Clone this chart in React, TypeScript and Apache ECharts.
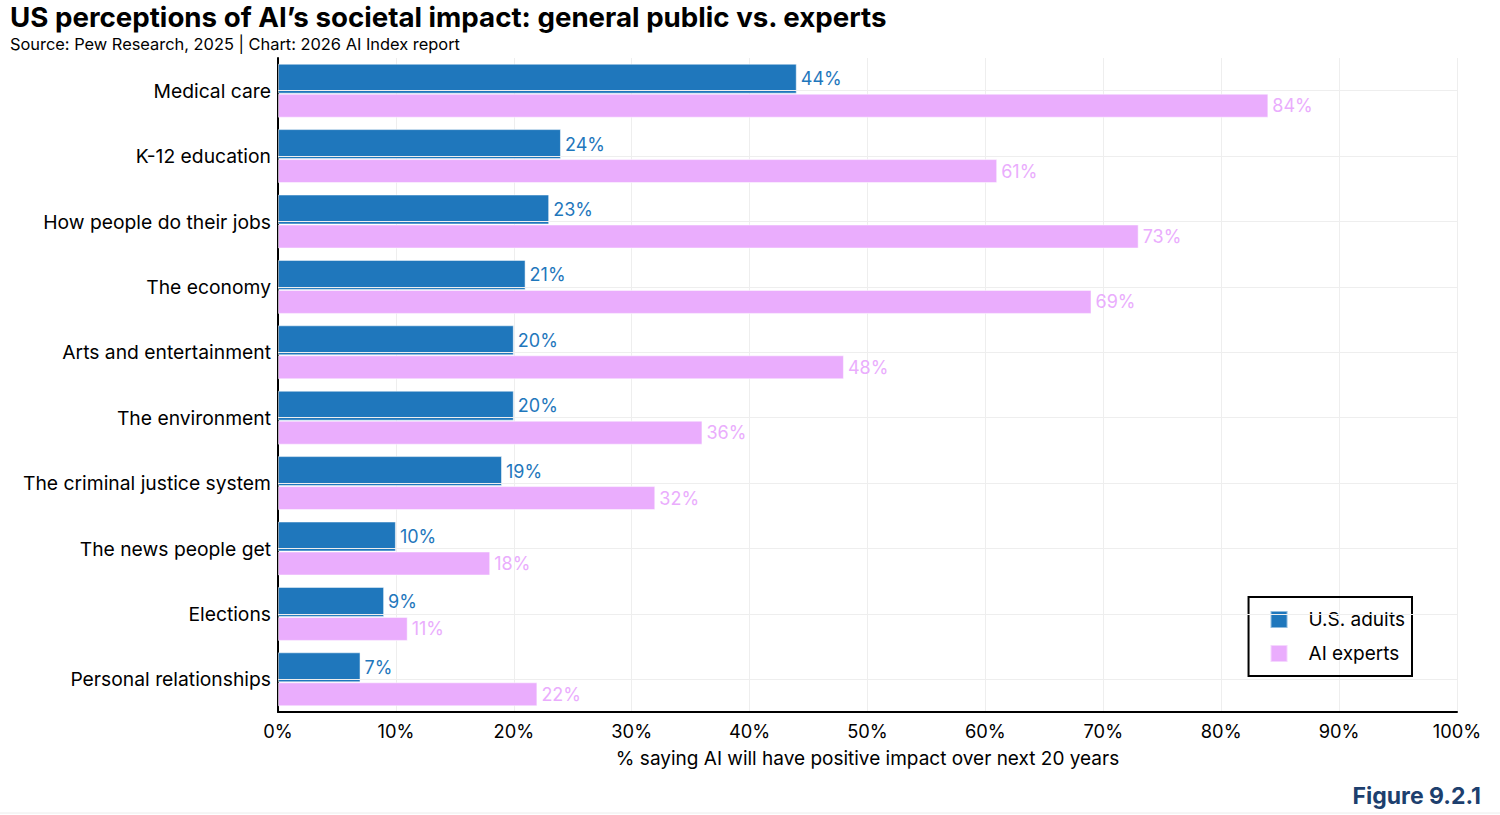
import React, { useEffect, useRef } from "react";
import * as echarts from "echarts";

const categories = [
  "Medical care",
  "K-12 education",
  "How people do their jobs",
  "The economy",
  "Arts and entertainment",
  "The environment",
  "The criminal justice system",
  "The news people get",
  "Elections",
  "Personal relationships",
];
const usAdults = [44, 24, 23, 21, 20, 20, 19, 10, 9, 7];
const aiExperts = [84, 61, 73, 69, 48, 36, 32, 18, 11, 22];
const xTicks = [0, 10, 20, 30, 40, 50, 60, 70, 80, 90, 100];

const BLUE = "#1f77bc";
const PINK = "#eaadfd";
const FONT = "Inter, 'Noto Sans', sans-serif";

export default function App() {
  const ref = useRef<HTMLDivElement>(null);

  useEffect(() => {
    document.body.style.margin = "0";
    const chart = echarts.init(ref.current!, undefined, { renderer: "svg" });
    chart.setOption({
      animation: false,
      textStyle: { fontFamily: FONT },
      title: [
        {
          text: "US perceptions of AI’s societal impact: general public vs. experts",
          left: 5,
          top: -2,
          textStyle: { fontFamily: FONT, fontSize: 27.7, fontWeight: "bold", color: "#000" },
        },
        {
          text: "Source: Pew Research, 2025 | Chart: 2026 AI Index report",
          left: 5,
          top: 31,
          textStyle: { fontFamily: FONT, fontSize: 16.4, fontWeight: "normal", color: "#000" },
        },
        {
          text: "Figure 9.2.1",
          right: 14,
          top: 779,
          textStyle: { fontFamily: FONT, fontSize: 23, fontWeight: "bold", color: "#1d3f6e" },
        },
      ],
      legend: {
        orient: "vertical",
        right: 88,
        top: 597,
        padding: [13, 7, 13, 21],
        borderColor: "#000",
        borderWidth: 2,
        icon: "rect",
        itemWidth: 17,
        itemHeight: 17,
        itemGap: 15,
        textStyle: { fontFamily: FONT, fontSize: 19, color: "#000", padding: [0, 0, 0, 16] },
        data: ["U.S. adults", "AI experts"],
      },
      grid: { left: 278, right: 43, top: 58, bottom: 103, containLabel: false },
      xAxis: {
        type: "value",
        min: 0,
        max: 100,
        interval: 10,
        name: "% saying AI will have positive impact over next 20 years",
        nameLocation: "middle",
        nameGap: 37,
        nameTextStyle: { fontFamily: FONT, fontSize: 19, color: "#000" },
        axisLine: { show: true, lineStyle: { color: "#000", width: 2 } },
        axisTick: { show: false },
        axisLabel: {
          fontFamily: FONT,
          fontSize: 18.3,
          color: "#000",
          margin: 10,
          formatter: (v: number) => (xTicks.includes(v) ? `${v}%` : ""),
        },
        splitLine: { show: true, lineStyle: { color: "#eeeeee", width: 1 } },
      },
      yAxis: {
        type: "category",
        inverse: true,
        data: categories,
        axisLine: { show: true, lineStyle: { color: "#000", width: 2 } },
        axisTick: { show: false },
        axisLabel: { fontFamily: FONT, fontSize: 19.3, color: "#000", margin: 7 },
        splitLine: { show: false },
      },
      series: [
        {
          name: "gridlines",
          type: "line",
          data: [],
          silent: true,
          z: 0,
          markLine: {
            silent: true,
            symbol: ["none", "none"],
            label: { show: false },
            lineStyle: { color: "#eeeeee", width: 1, type: "solid" },
            data: categories.map((c) => ({ yAxis: c })),
          },
        },
        {
          name: "U.S. adults",
          type: "bar",
          data: usAdults,
          barWidth: 30,
          barGap: "0%",
          z: 3,
          itemStyle: { color: BLUE, borderColor: "rgba(255,255,255,0.5)", borderWidth: 1 },
          label: {
            show: true,
            position: "right",
            distance: 4,
            formatter: "{c}%",
            fontFamily: FONT,
            fontSize: 18,
            color: BLUE,
          },
        },
        {
          name: "AI experts",
          type: "bar",
          data: aiExperts,
          barWidth: 24,
          z: 2,
          itemStyle: { color: PINK, borderColor: "rgba(255,255,255,0.5)", borderWidth: 1 },
          label: {
            show: true,
            position: "right",
            distance: 4,
            formatter: "{c}%",
            fontFamily: FONT,
            fontSize: 18,
            color: PINK,
          },
        },
      ],
      graphic: [
        {
          type: "line",
          shape: { x1: 0, y1: 813, x2: 1500, y2: 813 },
          style: { stroke: "#ececec", lineWidth: 1 },
          silent: true,
        },
      ],
    });
    return () => chart.dispose();
  }, []);

  return <div ref={ref} style={{ width: 1500, height: 815 }} />;
}
